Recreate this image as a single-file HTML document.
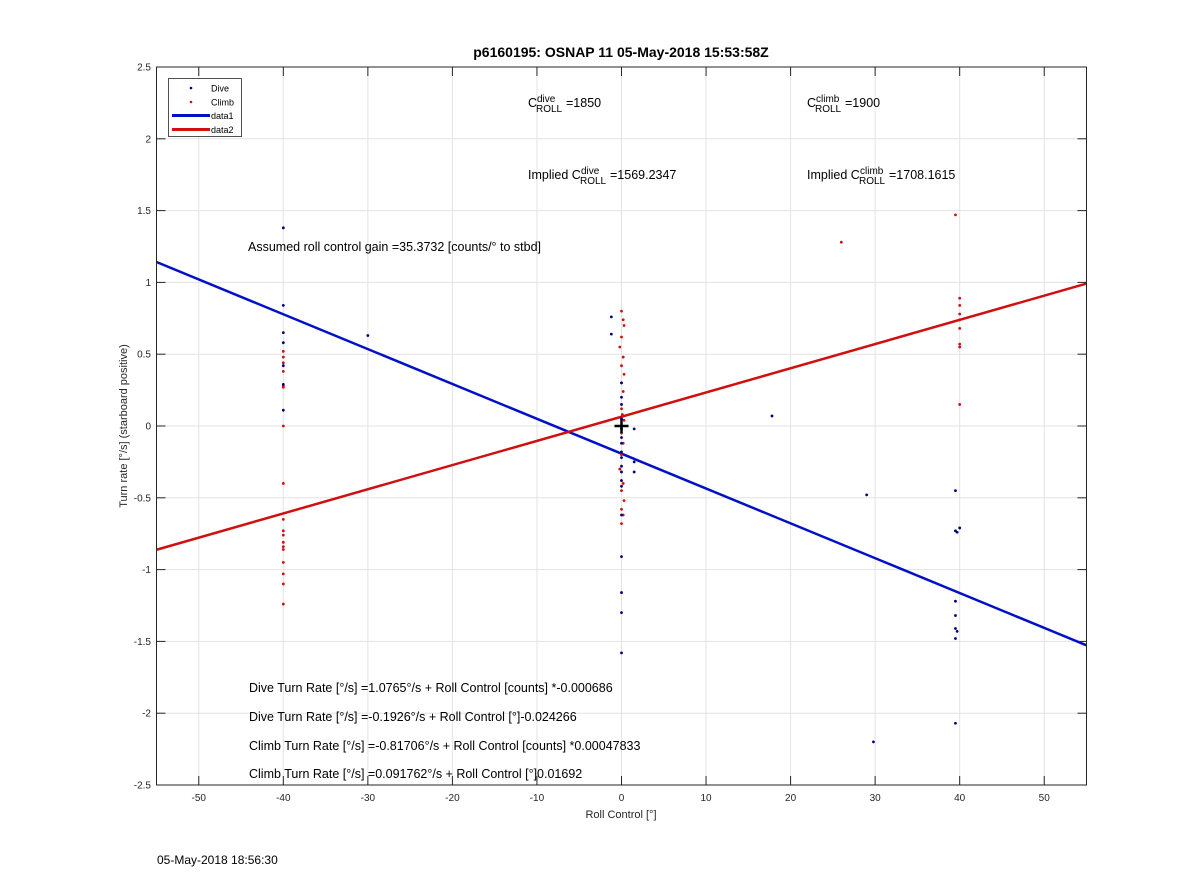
<!DOCTYPE html>
<html><head><meta charset="utf-8"><style>
body{margin:0;background:#fff;}
svg{font-family:"Liberation Sans",Arial,sans-serif;}
</style></head><body>
<svg id="c" width="1200" height="885" viewBox="0 0 1200 885">
<rect width="1200" height="885" fill="#fff"/>
<g id="grid"></g>
<g id="lines"></g>
<g id="pts"></g>
<rect x="156.5" y="67" width="930" height="718" fill="none" stroke="#262626" stroke-width="1"/>
<g id="ticks"></g>
<text x="621" y="57" text-anchor="middle" font-size="14" font-weight="bold" fill="#000">p6160195: OSNAP 11 05-May-2018 15:53:58Z</text>
<text x="621" y="818" text-anchor="middle" font-size="11" fill="#262626">Roll Control [°]</text>
<text transform="translate(127,426) rotate(-90)" text-anchor="middle" font-size="11" fill="#262626">Turn rate [°/s] (starboard positive)</text>
<text x="157" y="864" font-size="12" fill="#000">05-May-2018 18:56:30</text>
<g font-size="12.5" fill="#000">
<g>
<text x="528" y="107">C</text><text x="537" y="102" font-size="10">dive</text><text x="536" y="112" font-size="10">ROLL</text><text x="566" y="107">=1850</text></g>
<g>
<text x="807" y="107">C</text><text x="816" y="102" font-size="10">climb</text><text x="815" y="112" font-size="10">ROLL</text><text x="845" y="107">=1900</text></g>
<g>
<text x="528" y="179">Implied C</text><text x="581" y="174" font-size="10">dive</text><text x="580" y="184" font-size="10">ROLL</text><text x="610" y="179">=1569.2347</text></g>
<g>
<text x="807" y="179">Implied C</text><text x="860" y="174" font-size="10">climb</text><text x="859" y="184" font-size="10">ROLL</text><text x="889" y="179">=1708.1615</text></g>
<text x="248" y="251">Assumed roll control gain =35.3732 [counts/° to stbd]</text>
<text x="249" y="692">Dive Turn Rate [°/s] =1.0765°/s + Roll Control [counts] *-0.000686</text>
<text x="249" y="721">Dive Turn Rate [°/s] =-0.1926°/s + Roll Control [°]-0.024266</text>
<text x="249" y="750">Climb Turn Rate [°/s] =-0.81706°/s + Roll Control [counts] *0.00047833</text>
<text x="249" y="778">Climb Turn Rate [°/s] =0.091762°/s + Roll Control [°]0.01692</text>
</g>
<g>
<rect x="168.5" y="78.5" width="73" height="58" fill="#fff" stroke="#262626" stroke-width="0.8"/>
<circle cx="191" cy="88" r="1.3" fill="#00007f"/>
<text x="211" y="91.5" font-size="9">Dive</text>
<circle cx="191" cy="102" r="1.3" fill="#d01010"/>
<text x="211" y="105.5" font-size="9">Climb</text>
<line x1="172" y1="115.5" x2="210" y2="115.5" stroke="#0010c8" stroke-width="3"/>
<text x="211" y="119" font-size="9">data1</text>
<line x1="172" y1="129.5" x2="210" y2="129.5" stroke="#d01010" stroke-width="3"/>
<text x="211" y="133" font-size="9">data2</text>
</g>
</svg>
<script>
const xTicks=[-50,-40,-30,-20,-10,0,10,20,30,40,50];
const yTicks=[-2.5,-2,-1.5,-1,-0.5,0,0.5,1,1.5,2,2.5];
const diveX=[-40,-40,-40,-40,-40,-40,-40,-30,-1.2,-1.2,0,0,0,0,0,0,0,0,0,0,0,0,0,0,0,0,0,0,1.5,1.5,1.5,17.8,29,29.8,39.5,40,39.5,39.7,39.5,39.5,39.5,39.7,39.5,39.5];
const diveY=[1.38,0.84,0.65,0.58,0.42,0.29,0.11,0.63,0.76,0.64,0.3,0.2,0.15,0.05,-0.02,-0.08,-0.12,-0.18,-0.22,-0.28,-0.32,-0.38,-0.42,-0.62,-0.91,-1.16,-1.3,-1.58,-0.02,-0.25,-0.32,0.07,-0.48,-2.2,-0.45,-0.71,-0.73,-0.74,-1.22,-1.32,-1.41,-1.43,-1.48,-2.07];
const climbX=[-40,-40,-40,-40,-40,-40,-40,-40,-40,-40,-40,-40,-40,-40,-40,-40,-40,-40,0,0.2,0.3,0,-0.2,0.2,0,0.3,0,0.2,0,0.1,0.3,0,0.2,0,-0.2,0.2,0,0.3,0,0.2,0,26,39.5,40,40,40,40,40,40,40,40];
const climbY=[0.52,0.48,0.44,0.38,0.28,0.27,0,-0.4,-0.65,-0.73,-0.76,-0.81,-0.84,-0.86,-0.95,-1.03,-1.1,-1.24,0.8,0.74,0.7,0.62,0.55,0.48,0.42,0.36,0.3,0.24,0.12,0.08,0.04,-0.05,-0.12,-0.2,-0.3,-0.4,-0.45,-0.52,-0.58,-0.62,-0.68,1.28,1.47,0.89,0.84,0.78,0.74,0.68,0.57,0.55,0.15];
const diveFit=[-0.1926,-0.024266];
const climbFit=[0.065,0.01685];
const xr=[-55,55], yr=[-2.5,2.5];
const X=v=>156.5+(v-xr[0])/(xr[1]-xr[0])*930;
const Y=v=>785-(v-yr[0])/(yr[1]-yr[0])*718;
const NS='http://www.w3.org/2000/svg';
function mk(p,t,a){const e=document.createElementNS(NS,t);for(const k in a)e.setAttribute(k,a[k]);document.getElementById(p).appendChild(e);return e;}
xTicks.forEach(t=>{
 const g=mk('grid','line',{x1:X(t),x2:X(t),y1:67,y2:785,stroke:'#e3e3e3','stroke-width':1});
 
 
 mk('ticks','line',{x1:X(t),x2:X(t),y1:785,y2:776,stroke:'#262626'});
 mk('ticks','line',{x1:X(t),x2:X(t),y1:67,y2:76,stroke:'#262626'});
 const l=mk('ticks','text',{x:X(t),y:801,'text-anchor':'middle','font-size':10,fill:'#262626'});
 l.textContent=t;
 
 
});
yTicks.forEach(t=>{
 const g=mk('grid','line',{x1:156.5,x2:1086.5,y1:Y(t),y2:Y(t),stroke:'#e3e3e3','stroke-width':1});
 
 
 mk('ticks','line',{x1:156.5,x2:165.5,y1:Y(t),y2:Y(t),stroke:'#262626'});
 mk('ticks','line',{x1:1086.5,x2:1077.5,y1:Y(t),y2:Y(t),stroke:'#262626'});
 const l=mk('ticks','text',{x:151,y:Y(t)+3.5,'text-anchor':'end','font-size':10,fill:'#262626'});
 l.textContent=t;
 
 
});
function fitLine(f,col,name){
 const l=mk('lines','line',{x1:X(xr[0]),y1:Y(f[0]+f[1]*xr[0]),x2:X(xr[1]),y2:Y(f[0]+f[1]*xr[1]),stroke:col,'stroke-width':2.5});
 
 
}
fitLine(diveFit,'#0010c8','dive-fit-line');
fitLine(climbFit,'#d01010','climb-fit-line');
climbX.forEach((x,i)=>{const c=mk('pts','circle',{cx:X(x),cy:Y(climbY[i]),r:1.4,fill:'#d01010'});
 
 });
diveX.forEach((x,i)=>{const c=mk('pts','circle',{cx:X(x),cy:Y(diveY[i]),r:1.4,fill:'#00007f'});
 
 });
const m1=mk('pts','line',{x1:X(0)-7,x2:X(0)+7,y1:Y(0),y2:Y(0),stroke:'#000','stroke-width':2.5});


mk('pts','line',{x1:X(0),x2:X(0),y1:Y(0)-7,y2:Y(0)+7,stroke:'#000','stroke-width':2.5});
</script>
</body></html>
